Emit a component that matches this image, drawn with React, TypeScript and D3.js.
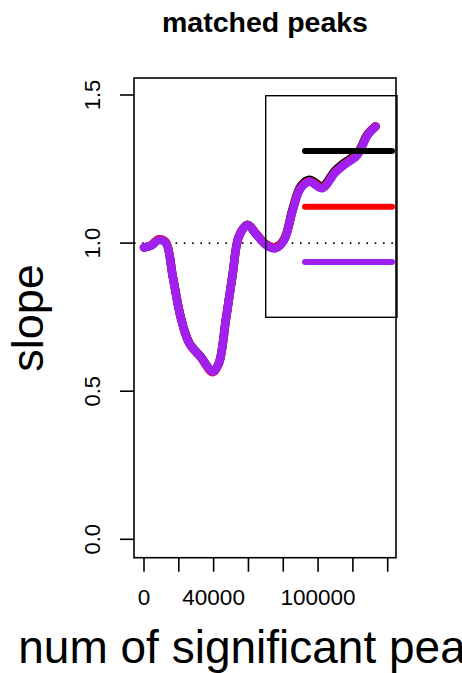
import React from "react";
import * as d3 from "d3";

// x positions (number of significant peaks)
const peaks = [0, 4000, 8500, 12500, 16500, 21000, 26000, 32500, 39500, 43000, 47000, 51000, 54500, 59500, 64000, 70000, 75500, 80500, 85500, 90000, 95000, 102500, 109500, 115000, 122500, 128500, 133000];

// slope series (black / red / purple overlap almost exactly)
const slopeBlack = [0.985, 0.992, 1.011, 1.002, 0.888, 0.752, 0.663, 0.617, 0.567, 0.595, 0.741, 0.899, 1.023, 1.062, 1.034, 0.996, 0.984, 1.013, 1.118, 1.192, 1.214, 1.192, 1.243, 1.271, 1.303, 1.368, 1.394];
const slopeRed = [0.985, 0.992, 1.013, 1.003, 0.889, 0.752, 0.662, 0.615, 0.564, 0.594, 0.740, 0.898, 1.022, 1.061, 1.034, 0.997, 0.986, 1.012, 1.113, 1.187, 1.209, 1.187, 1.238, 1.266, 1.299, 1.366, 1.394];
const slopePurple = [0.985, 0.991, 1.010, 1.001, 0.887, 0.751, 0.662, 0.616, 0.566, 0.594, 0.740, 0.898, 1.022, 1.061, 1.033, 0.994, 0.982, 1.010, 1.112, 1.185, 1.207, 1.185, 1.236, 1.264, 1.297, 1.365, 1.393];

const xTicks = [0, 20000, 40000, 60000, 80000, 100000, 120000, 140000];
const xTickLabels = ["0", "", "40000", "", "", "100000", "", ""];
const yTicks = [0, 0.5, 1.0, 1.5];
const yTickLabels = ["0.0", "0.5", "1.0", "1.5"];

const series = [
  { name: "black", color: "#000000", values: slopeBlack },
  { name: "red", color: "#FF0000", values: slopeRed },
  { name: "purple", color: "#A020F0", values: slopePurple },
];

const W = 462;
const H = 673;
const box = { left: 134, right: 396, top: 78, bottom: 557.7 };
const font = "'Liberation Sans', Arial, sans-serif";

export default function App() {
  const x = d3.scaleLinear().domain([0, 140000]).range([144, 387.7]);
  const y = d3.scaleLinear().domain([0, 1.5]).range([539.3, 95]);

  const line = d3
    .line<number>()
    .x((_, i) => x(peaks[i]))
    .y((d) => y(d))
    .curve(d3.curveCatmullRom);

  // legend box inside plot, lines only (labels fall outside the view)
  const legendBox = { x0: 265.7, x1: 397, y0: 95.7, y1: 317.3 };
  const legendRows = [151, 206.7, 262];

  return (
    <svg width={W} height={H} style={{ position: "absolute", left: 0, top: 0, background: "#fff" }}>
      <text x={265} y={31.5} textAnchor="middle" fontFamily={font} fontWeight="bold" fontSize={28.5}>
        matched peaks
      </text>

      {/* reference line at slope 1 */}
      <line
        x1={box.left}
        x2={box.right}
        y1={y(1)}
        y2={y(1)}
        stroke="#000"
        strokeWidth={1.6}
        strokeDasharray="1.6 6.7"
      />

      {series.map((s) => (
        <path
          key={s.name}
          d={line(s.values) || ""}
          fill="none"
          stroke={s.color}
          strokeWidth={8.5}
          strokeLinecap="round"
          strokeLinejoin="round"
        />
      ))}

      <rect
        x={legendBox.x0}
        y={legendBox.y0}
        width={legendBox.x1 - legendBox.x0}
        height={legendBox.y1 - legendBox.y0}
        fill="none"
        stroke="#000"
        strokeWidth={1.4}
      />
      {series.map((s, i) => (
        <line
          key={"lg" + s.name}
          x1={305}
          x2={392}
          y1={legendRows[i]}
          y2={legendRows[i]}
          stroke={s.color}
          strokeWidth={6}
          strokeLinecap="round"
        />
      ))}

      <rect
        x={box.left}
        y={box.top}
        width={box.right - box.left}
        height={box.bottom - box.top}
        fill="none"
        stroke="#000"
        strokeWidth={1.6}
      />

      {/* x axis */}
      {xTicks.map((t, i) => (
        <g key={"xt" + t}>
          <line x1={x(t)} x2={x(t)} y1={box.bottom} y2={571.7} stroke="#000" strokeWidth={1.6} />
          {xTickLabels[i] && (
            <text x={x(t)} y={605} textAnchor="middle" fontFamily={font} fontSize={22.5}>
              {xTickLabels[i]}
            </text>
          )}
        </g>
      ))}

      {/* y axis */}
      {yTicks.map((t, i) => (
        <g key={"yt" + t}>
          <line x1={120} x2={box.left} y1={y(t)} y2={y(t)} stroke="#000" strokeWidth={1.6} />
          <text
            transform={`translate(100,${y(t)}) rotate(-90)`}
            textAnchor="middle"
            fontFamily={font}
            fontSize={22}
          >
            {yTickLabels[i]}
          </text>
        </g>
      ))}

      <text x={265} y={663} textAnchor="middle" fontFamily={font} fontSize={46}>
        num of significant peaks
      </text>
      <text transform={`translate(43,318) rotate(-90)`} textAnchor="middle" fontFamily={font} fontSize={45}>
        slope
      </text>
    </svg>
  );
}
